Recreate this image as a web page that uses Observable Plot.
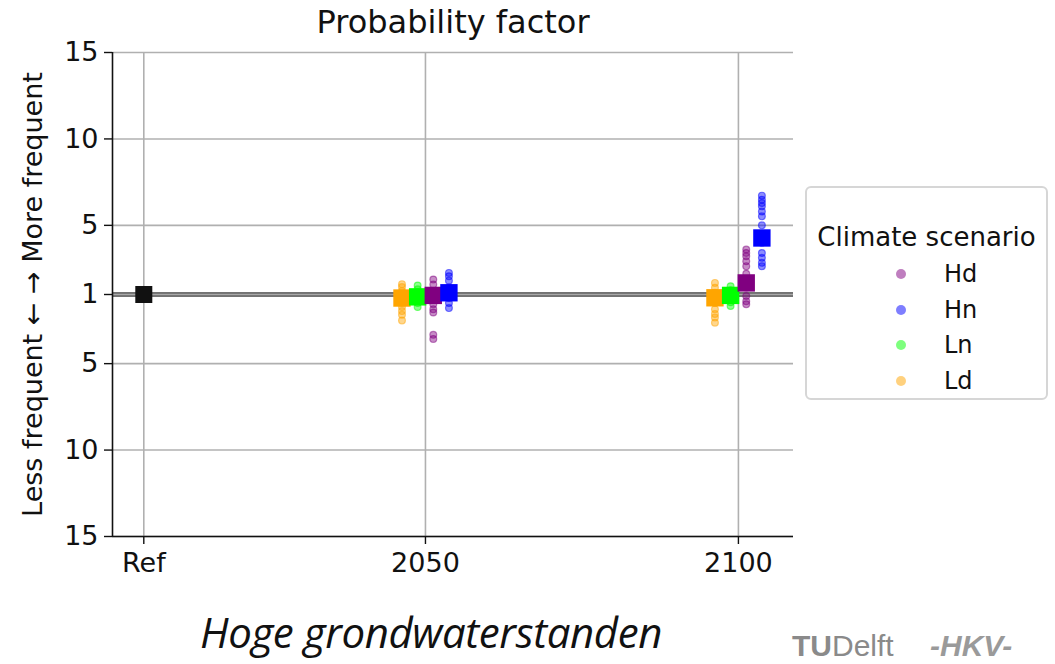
<!DOCTYPE html>
<html>
<head>
<meta charset="utf-8">
<script src="https://cdn.jsdelivr.net/npm/d3@7"></script>
<script src="https://cdn.jsdelivr.net/npm/@observablehq/plot@0.6"></script>
<style>
  html, body { margin: 0; padding: 0; background: #fff; }
  #wrap { position: relative; width: 1055px; height: 664px; overflow: hidden; font-family: "DejaVu Sans", sans-serif; }
  #chart { position: absolute; left: 0; top: 0; }
  .title { position: absolute; left: 0; width: 906px; top: 3px; text-align: center; font-size: 32px; color: #111; }
  .legend { position: absolute; left: 805px; top: 186px; width: 243px; height: 214px; border: 2px solid #d6d6d6; border-radius: 6px; box-sizing: border-box; background: #fff; }
  .legend .lt { position: absolute; left: 0; width: 100%; top: 34px; text-align: center; font-size: 26px; color: #111; }
  .legend .item { position: absolute; left: 0; height: 28px; width: 100%; }
  .legend .item span.dot { position: absolute; left: 90px; top: 10px; width: 8px; height: 8px; border-radius: 50%; }
  .legend .item span.lab { position: absolute; left: 137px; top: 0px; font-size: 24px; color: #111; line-height: 28px; }
  .caption { position: absolute; left: 200px; top: 604px; font-family: "Open Sans", sans-serif; font-style: italic; font-size: 42px; color: #111; letter-spacing: -0.4px; line-height: 56px; }
  .logo1 { position: absolute; left: 792px; top: 630px; font-family: "Liberation Sans", sans-serif; font-size: 30px; line-height: 32px; color: #8a8a8a; }
  .logo1 b { font-weight: bold; }
  .logo2 { position: absolute; left: 930px; top: 630px; font-family: "Liberation Sans", sans-serif; font-size: 30px; line-height: 32px; font-weight: bold; font-style: italic; color: #9a9a9a; }
</style>
</head>
<body>
<div id="wrap">
  <div id="chart"></div>
  <div class="title">Probability factor</div>
  <div class="legend" id="legend"><div class="lt">Climate scenario</div></div>
  <div class="caption">Hoge grondwaterstanden</div>
  <div class="logo1"><b>TU</b>Delft</div>
  <div class="logo2">-HKV-</div>
</div>
<script>
// ---- data (probability factors; <1 means less frequent) ----
const periodLabels = ["Ref", "2050", "2100"];
const periodYears = [2005, 2050, 2100];
const scenarios = ["Hd", "Hn", "Ln", "Ld"];
const scenarioColors = ["#800080", "#0000ff", "#00ff00", "#ffa500"];
const scenarioOffsets = [1.25, 3.75, -1.25, -3.75]; // years, horizontal dodge
const drawOrder = ["Ld", "Ln", "Hd", "Hn"];

const yTickValues = [15, 10, 5, 1, 0.2, 0.1, 1 / 15]; // factors shown as 15,10,5,1,5,10,15
const yTickLabels = ["15", "10", "5", "1", "5", "10", "15"];

const refFactor = 1.0;

// 2050 ensemble members
const hd2050 = [1.87, 1.58, 1.20, 0.83, 0.64, 0.54, 0.49, 0.30, 0.28];
const hn2050 = [2.25, 2.06, 1.80, 1.40, 1.10, 0.83, 0.67, 0.56];
const ln2050 = [1.52, 1.30, 1.10, 0.91, 0.77, 0.67, 0.58];
const ld2050 = [1.60, 1.43, 1.20, 1.00, 0.79, 0.67, 0.58, 0.51, 0.46, 0.40];
// 2100 ensemble members
const hd2100 = [3.60, 3.40, 3.21, 2.92, 2.64, 2.20, 1.80, 1.40, 0.92, 0.72, 0.64];
const hn2100 = [6.72, 6.48, 6.29, 6.10, 5.80, 5.52, 5.00, 4.50, 4.00, 3.40, 3.12, 2.83, 2.64];
const ln2100 = [1.48, 1.25, 1.00, 0.80, 0.69, 0.60];
const ld2100 = [1.67, 1.39, 1.10, 0.83, 0.67, 0.54, 0.47, 0.43, 0.38];
// central estimates (squares)
const mean2050 = {Hd: 0.95, Hn: 1.10, Ln: 0.88, Ld: 0.83};
const mean2100 = {Hd: 1.67, Hn: 4.27, Ln: 0.95, Ld: 0.84};

// ---- build tables ----
const tf = f => f >= 1 ? f - 1 : 1 - 1 / f; // symmetric display transform
const colorOf = Object.fromEntries(scenarios.map((s, i) => [s, scenarioColors[i]]));
const offOf = Object.fromEntries(scenarios.map((s, i) => [s, scenarioOffsets[i]]));
const members = {
  2050: {Hd: hd2050, Hn: hn2050, Ln: ln2050, Ld: ld2050},
  2100: {Hd: hd2100, Hn: hn2100, Ln: ln2100, Ld: ld2100}
};
const means = {2050: mean2050, 2100: mean2100};

const pts = [];
const sq = [];
for (const s of drawOrder) {
  for (const yr of [2050, 2100]) {
    for (const f of members[yr][s]) pts.push({x: yr + offOf[s], y: tf(f), s});
  }
}
for (const s of drawOrder) {
  for (const yr of [2050, 2100]) sq.push({x: yr + offOf[s], y: tf(means[yr][s]), s});
}
const refPt = [{x: periodYears[0], y: tf(refFactor)}];

const W = 1055, H = 664;
const chart = Plot.plot({
  width: W, height: H,
  marginLeft: 112, marginRight: 262, marginTop: 52, marginBottom: 128,
  style: {fontFamily: "DejaVu Sans, sans-serif", fontSize: "27px", color: "#111", background: "transparent", overflow: "visible"},
  x: {domain: [2000, 2108.8]},
  y: {domain: [-14, 14]},
  marks: [
    Plot.gridY(yTickValues.map(tf), {stroke: "#b0b0b0", strokeOpacity: 1, strokeWidth: 1.6}),
    Plot.gridX(periodYears, {stroke: "#b0b0b0", strokeOpacity: 1, strokeWidth: 1.6}),
    Plot.ruleY([tf(1)], {stroke: "#444", strokeWidth: 4.5}),
    Plot.ruleY([tf(1)], {stroke: "#a8a8a8", strokeWidth: 2}),
    Plot.axisY(yTickValues.map(tf), {tickFormat: (d, i) => yTickLabels[i], tickSize: 8, tickPadding: 6, fontSize: 27, label: null, stroke: "#111", strokeWidth: 1.4}),
    Plot.axisX(periodYears, {tickFormat: (d, i) => periodLabels[i], tickSize: 8, tickPadding: 8, fontSize: 27, label: null, stroke: "#111", strokeWidth: 1.4}),
    Plot.ruleX([2000], {y1: -14, y2: 14, stroke: "#111", strokeWidth: 1.6}),
    Plot.ruleY([-14], {x1: 2000, x2: 2108.8, stroke: "#111", strokeWidth: 1.6}),
    Plot.dot(pts, {x: "x", y: "y", r: 3.4, fill: d => colorOf[d.s], stroke: d => colorOf[d.s], fillOpacity: 0.45, strokeOpacity: 0.5, strokeWidth: 1.2}),
    Plot.dot(sq, {x: "x", y: "y", symbol: "square", r: 9.8, fill: d => colorOf[d.s], stroke: "none"}),
    Plot.dot(refPt, {x: "x", y: "y", symbol: "square", r: 9.6, fill: "#111", stroke: "none"}),
    Plot.text(["Less frequent \u2190 \u2192 More frequent"], {frameAnchor: "left", textAnchor: "middle", rotate: -90, dx: -79, fontSize: 27, fill: "#111"})
  ]
});
document.getElementById("chart").appendChild(chart);

// legend
const lg = document.getElementById("legend");
const legendTops = [72, 108, 143, 179];
scenarios.forEach((s, i) => {
  const it = document.createElement("div");
  it.className = "item";
  it.style.top = legendTops[i] + "px";
  it.innerHTML = `<span class="dot" style="background:${scenarioColors[i]};opacity:0.5;box-shadow:0 0 0 1px ${scenarioColors[i]}"></span><span class="lab">${s}</span>`;
  lg.appendChild(it);
});
</script>
</body>
</html>
